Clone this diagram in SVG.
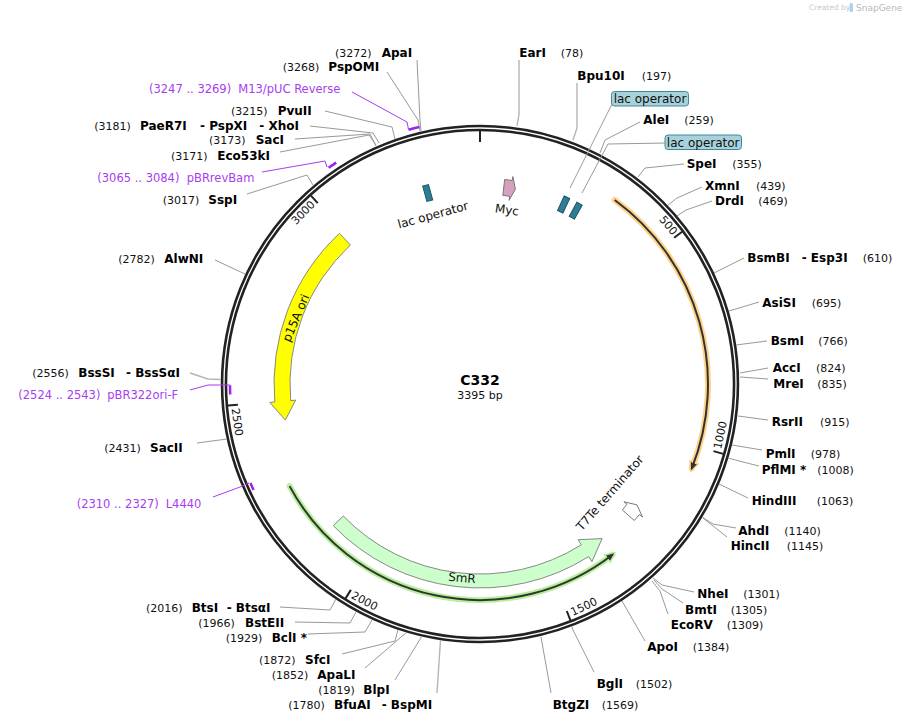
<svg xmlns="http://www.w3.org/2000/svg" width="907" height="723" viewBox="0 0 907 723">
<defs>
<style>
.en{font-family:"DejaVu Sans",Verdana,sans-serif;font-weight:bold;font-size:12px;fill:#000}
.num{font-family:"DejaVu Sans",Verdana,sans-serif;font-size:11px;fill:#111}
.pr{font-family:"DejaVu Sans",Verdana,sans-serif;font-size:11.5px;fill:#a83df0}
.fl{font-family:"DejaVu Sans",Verdana,sans-serif;font-size:12px;fill:#111}
.tk{font-family:"DejaVu Sans",Verdana,sans-serif;font-size:11px;fill:#111}
.ld{stroke:#999;fill:none;stroke-width:1}
.ld2{stroke:#b5b5b5;fill:none;stroke-width:1.4}
.pl{stroke:#a83df0;fill:none;stroke-width:1}
.pb{stroke:#a020f0;fill:none;stroke-width:2.5}
.tick{stroke:#222;stroke-width:2}
.lacf{fill:#2d7d94;stroke:#1e5565;stroke-width:1}
.box{fill:#a9d1da;stroke:#3a8a9e;stroke-width:1}
</style>
<marker id="ahG" viewBox="0 0 10 10" refX="6" refY="5" markerWidth="12" markerHeight="12" markerUnits="userSpaceOnUse" orient="auto"><path d="M0,0 L10,5 L0,10 z" fill="#b6f09a"/></marker>
<marker id="ahO" viewBox="0 0 10 10" refX="6" refY="5" markerWidth="12" markerHeight="12" markerUnits="userSpaceOnUse" orient="auto"><path d="M0,0 L10,5 L0,10 z" fill="#ffd48a"/></marker>
<marker id="ahD" viewBox="0 0 10 10" refX="7" refY="5" markerWidth="8" markerHeight="8" markerUnits="userSpaceOnUse" orient="auto"><path d="M0,1 L10,5 L0,9 z" fill="#333"/></marker>
</defs>
<rect width="907" height="723" fill="#fff"/>

<g id="watermark">
<text x="809" y="10" font-family="DejaVu Sans,sans-serif" font-size="7.5" fill="#c8c8c8">Created by</text>
<rect x="849.5" y="3" width="3.5" height="9" rx="1.5" fill="#a8d4f2"/>
<text x="856" y="10.5" font-family="DejaVu Sans,sans-serif" font-size="9" fill="#b8b8b8">SnapGene</text>
</g>

<g id="backbone">
<circle cx="480" cy="384" r="256" fill="none" stroke="#222" stroke-width="6.5"/>
<circle cx="480" cy="384" r="256" fill="none" stroke="#fff" stroke-width="1.3"/>
<line class="tick" x1="480" y1="131" x2="480" y2="142"/>
<line class="tick" x1="682.1" y1="231.8" x2="674.1" y2="237.8"/>
<line class="tick" x1="723.2" y1="453.9" x2="713.5" y2="451.1"/>
<line class="tick" x1="570.4" y1="620.3" x2="566.8" y2="611.0"/>
<line class="tick" x1="345.6" y1="598.4" x2="350.9" y2="589.9"/>
<line class="tick" x1="227.9" y1="405.6" x2="237.9" y2="404.8"/>
<line class="tick" x1="311.0" y1="195.7" x2="317.7" y2="203.1"/>
<text class="tk" text-anchor="middle" dominant-baseline="central" transform="translate(668.2,225.5) rotate(49.9)">500</text>
<text class="tk" text-anchor="middle" dominant-baseline="central" transform="translate(720.6,435.1) rotate(-78)">1000</text>
<text class="tk" text-anchor="middle" dominant-baseline="central" transform="translate(584.0,606.9) rotate(-25)">1500</text>
<text class="tk" text-anchor="middle" dominant-baseline="central" transform="translate(364.5,601.2) rotate(28)">2000</text>
<text class="tk" text-anchor="middle" dominant-baseline="central" transform="translate(237.0,422.1) rotate(81.1)">2500</text>
<text class="tk" text-anchor="middle" dominant-baseline="central" transform="translate(303.3,212.8) rotate(-45.9)">3000</text>
</g>

<g id="title">
<text x="480" y="385" text-anchor="middle" font-family="DejaVu Sans,sans-serif" font-weight="bold" font-size="14" fill="#000">C332</text>
<text x="480" y="399" text-anchor="middle" font-family="DejaVu Sans,sans-serif" font-size="11" fill="#111">3395 bp</text>
</g>

<g id="orf-green">
<path d="M289.6,486.1 A216,216 0 0,0 612.4,554.7" fill="none" stroke="#b6f09a" stroke-width="6" stroke-linecap="round" marker-end="url(#ahG)"/>
<path d="M289.6,486.1 A216,216 0 0,0 612.4,554.7" fill="none" stroke="#333" stroke-width="2" marker-end="url(#ahD)"/>
</g>
<g id="orf-orange">
<path d="M614.7,200.0 A228,228 0 0,1 691.8,468.3" fill="none" stroke="#ffd48a" stroke-width="6" stroke-linecap="round" marker-end="url(#ahO)"/>
<path d="M614.7,200.0 A228,228 0 0,1 691.8,468.3" fill="none" stroke="#333" stroke-width="2" marker-end="url(#ahD)"/>
</g>

<g id="p15A-ori">
<path d="M339.5,233.3 A206,206 0 0,0 274.8,402.0 L269.8,402.4 L285.3,420.1 L295.7,400.1 L290.7,400.6 A190,190 0 0,1 350.4,245.0 Z" fill="#ffff00" stroke="#888" stroke-width="1"/>
<text class="fl" text-anchor="middle" dominant-baseline="central" transform="translate(296,318) rotate(-67)">p15A ori</text>
</g>
<g id="SmR">
<path d="M333.3,525.7 A204,204 0 0,0 588.7,556.6 L591.9,561.7 L602.1,538.6 L578.1,539.7 L581.3,544.8 A190,190 0 0,1 343.3,516.0 Z" fill="#ccffcc" stroke="#888" stroke-width="1"/>
<text class="fl" text-anchor="middle" dominant-baseline="central" transform="translate(462,578) rotate(5)">SmR</text>
</g>
<g id="Myc">
<path d="M504.7,179.5 A206,206 0 0,1 512.2,180.5 L512.9,176.6 L515.4,189.2 L509.1,200.3 L509.7,196.3 A190,190 0 0,0 502.8,195.4 Z" fill="#d6a0bf" stroke="#777" stroke-width="1"/>
<text class="fl" text-anchor="middle" dominant-baseline="central" transform="translate(507,210) rotate(8)">Myc</text>
</g>
<g id="T7Te-terminator">
<path d="M634.3,520.5 A206,206 0 0,0 639.4,514.5 L642.5,517 L636.9,504.8 L623.9,501.8 L627,504.3 A190,190 0 0,1 622.3,509.9 Z" fill="#fff" stroke="#777" stroke-width="1"/>
<text class="fl" text-anchor="middle" dominant-baseline="central" transform="translate(610,493) rotate(-49)">T7Te terminator</text>
</g>
<g id="lac-operator-1">
<rect class="lacf" x="-3" y="-8" width="6" height="16" transform="translate(427.7,193.0) rotate(-15.3)"/>
<text class="fl" text-anchor="middle" dominant-baseline="central" transform="translate(433,215) rotate(-15.5)">lac operator</text>
</g>
<g id="lac-operator-2">
<rect class="lacf" x="-3" y="-8" width="6" height="16" transform="translate(563.6,204.5) rotate(25)"/>
<rect class="box" x="611.5" y="91.5" width="77" height="14.5" rx="3"/>
<text class="fl" x="650" y="103" text-anchor="middle">lac operator</text>
</g>
<g id="lac-operator-3">
<rect class="lacf" x="-3" y="-8" width="6" height="16" transform="translate(575.7,210.7) rotate(28.9)"/>
<rect class="box" x="665" y="135" width="76.5" height="14.5" rx="3"/>
<text class="fl" x="703.2" y="146.5" text-anchor="middle">lac operator</text>
</g>

<g id="connectors">
<polyline class="ld2" points="519,60 519,114 517,126"/>
<polyline class="ld2" points="577,83 577,128 573,140"/>
<polyline class="ld" points="612,104 570,188"/>
<polyline class="ld" points="640,122 605,140 600,153"/>
<polyline class="ld" points="666,143 608,144 582,193"/>
<polyline class="ld" points="684,164 645,168 638,177"/>
<polyline class="ld" points="702,187 677,198 668,205"/>
<polyline class="ld" points="712,201 686,210 677,216"/>
<polyline class="ld" points="744,258 714,273"/>
<polyline class="ld" points="759,302 729,311"/>
<polyline class="ld" points="767,341 736,345"/>
<polyline class="ld" points="768,368 740,373"/>
<polyline class="ld" points="768,379 740,377"/>
<polyline class="ld" points="768,420 738,416"/>
<polyline class="ld" points="762,450 732,445"/>
<polyline class="ld" points="759,466 743,462 728,458"/>
<polyline class="ld" points="748,498 719,484"/>
<polyline class="ld" points="736,528 713,524 702,517"/>
<polyline class="ld" points="727,537 703,518"/>
<polyline class="ld" points="694,592 662,585 653,578"/>
<polyline class="ld" points="683,603 662,589 654,580"/>
<polyline class="ld" points="668,614 660,591 652,581"/>
<polyline class="ld" points="645,641 622,601"/>
<polyline class="ld" points="594,672 573,630 571.6,626"/>
<polyline class="ld" points="551,693 541,637"/>
<polyline class="ld2" points="437,693 440.5,640"/>
<polyline class="ld" points="395,680 422,636"/>
<polyline class="ld" points="365,668 407,632"/>
<polyline class="ld" points="342,654 395,641 398,630"/>
<polyline class="ld" points="308,634 365,632 372,620"/>
<polyline class="ld" points="295,622 350,623 356,612"/>
<polyline class="ld" points="280,607 330,610 336,599"/>
<polyline class="ld" points="197,443 227,439"/>
<polyline class="ld2" points="190,373 208,379 221,379.5"/>
<polyline class="ld" points="215,260 245,274"/>
<polyline class="ld" points="247,194 307,175 313,185"/>
<polyline class="ld" points="280,152 369,135 376,145"/>
<polyline class="ld" points="295,139 370,134 376,146"/>
<polyline class="ld" points="310,126 373,133 379,143"/>
<polyline class="ld" points="325,111 392,127 395,139"/>
<polyline class="ld" points="387,72 418,120 420,131"/>
<polyline class="ld" points="417,60 420,120 421,131"/>
<polyline class="pl" points="352,92 407,122 408.5,129.5"/>
<polyline class="pl" points="262,172 325,161 327,167"/>
<polyline class="pl" points="190,390 208,385 230,385"/>
<polyline class="pl" points="213,497 240,487 249,483"/>
</g>

<g id="primer-M13-pUC-Reverse">
<path class="pb" d="M408.6,129.8 A264,264 0 0,1 419.3,127"/>
<text class="pr" x="149" y="93.3">(3247 .. 3269)</text><text class="pr" x="238.3" y="93.3">M13/pUC Reverse</text>
</g>
<g id="primer-pBRrevBam">
<path class="pb" d="M328.6,167.8 A264,264 0 0,1 336.2,162.6"/>
<text class="pr" x="97.3" y="181.6">(3065 .. 3084)</text><text class="pr" x="186.7" y="181.6">pBRrevBam</text>
</g>
<g id="primer-pBR322ori-F">
<path class="pb" d="M230.2,394.5 A250,250 0 0,1 230,385.3"/>
<text class="pr" x="18.3" y="399.3">(2524 .. 2543)</text><text class="pr" x="107.3" y="399.3">pBR322ori-F</text>
</g>
<g id="primer-L4440">
<path class="pb" d="M253.6,490 A250,250 0 0,1 250.4,482.9"/>
<text class="pr" x="76.7" y="507.6">(2310 .. 2327)</text><text class="pr" x="165.7" y="507.6">L4440</text>
</g>

<g id="EarI"><text class="en" x="519.3" y="56.5">EarI</text><text class="num" x="560.7" y="56.5">(78)</text></g>
<g id="Bpu10I"><text class="en" x="577.3" y="80">Bpu10I</text><text class="num" x="641.7" y="80">(197)</text></g>
<g id="AleI"><text class="en" x="643.3" y="124.3">AleI</text><text class="num" x="684.3" y="124.3">(259)</text></g>
<g id="SpeI"><text class="en" x="686.7" y="168.3">SpeI</text><text class="num" x="732.3" y="168.3">(355)</text></g>
<g id="XmnI"><text class="en" x="705" y="190">XmnI</text><text class="num" x="756" y="190">(439)</text></g>
<g id="DrdI"><text class="en" x="715" y="205">DrdI</text><text class="num" x="758.3" y="205">(469)</text></g>
<g id="BsmBI"><text class="en" x="747.3" y="262">BsmBI</text><text class="en" x="801.7" y="262">- Esp3I</text><text class="num" x="862.7" y="262">(610)</text></g>
<g id="AsiSI"><text class="en" x="762.3" y="307">AsiSI</text><text class="num" x="811.7" y="307">(695)</text></g>
<g id="BsmI"><text class="en" x="770.7" y="345">BsmI</text><text class="num" x="818.3" y="345">(766)</text></g>
<g id="AccI"><text class="en" x="772.7" y="372">AccI</text><text class="num" x="816" y="372">(824)</text></g>
<g id="MreI"><text class="en" x="773.3" y="387.6">MreI</text><text class="num" x="817.3" y="387.6">(835)</text></g>
<g id="RsrII"><text class="en" x="771.7" y="426">RsrII</text><text class="num" x="820" y="426">(915)</text></g>
<g id="PmlI"><text class="en" x="765.7" y="457.6">PmlI</text><text class="num" x="810.7" y="457.6">(978)</text></g>
<g id="PflMI"><text class="en" x="761.7" y="474.3">PflMI *</text><text class="num" x="817.3" y="474.3">(1008)</text></g>
<g id="HindIII"><text class="en" x="751.7" y="505">HindIII</text><text class="num" x="816.7" y="505">(1063)</text></g>
<g id="AhdI"><text class="en" x="738.3" y="535">AhdI</text><text class="num" x="784.3" y="535">(1140)</text></g>
<g id="HincII"><text class="en" x="730.7" y="550">HincII</text><text class="num" x="786.7" y="550">(1145)</text></g>
<g id="NheI"><text class="en" x="697.3" y="598.3">NheI</text><text class="num" x="743.3" y="598.3">(1301)</text></g>
<g id="BmtI"><text class="en" x="685" y="614.3">BmtI</text><text class="num" x="730.7" y="614.3">(1305)</text></g>
<g id="EcoRV"><text class="en" x="670.7" y="629.3">EcoRV</text><text class="num" x="726.7" y="629.3">(1309)</text></g>
<g id="ApoI"><text class="en" x="647.3" y="651">ApoI</text><text class="num" x="692.7" y="651">(1384)</text></g>
<g id="BglI"><text class="en" x="596.7" y="687.6">BglI</text><text class="num" x="635.7" y="687.6">(1502)</text></g>
<g id="BtgZI"><text class="en" x="552.7" y="709.3">BtgZI</text><text class="num" x="601.7" y="709.3">(1569)</text></g>

<g id="BtsI"><text class="num" x="146" y="611.6">(2016)</text><text class="en" x="191.7" y="611.6">BtsI</text><text class="en" x="226.7" y="611.6">- BtsαI</text></g>
<g id="BstEII"><text class="num" x="198.3" y="627">(1966)</text><text class="en" x="245" y="627">BstEII</text></g>
<g id="BclI"><text class="num" x="225.7" y="642">(1929)</text><text class="en" x="271.7" y="642">BclI *</text></g>
<g id="SfcI"><text class="num" x="259" y="664.3">(1872)</text><text class="en" x="305" y="664.3">SfcI</text></g>
<g id="ApaLI"><text class="num" x="271.7" y="679.3">(1852)</text><text class="en" x="317.3" y="679.3">ApaLI</text></g>
<g id="BlpI"><text class="num" x="318.3" y="693.6">(1819)</text><text class="en" x="363.3" y="693.6">BlpI</text></g>
<g id="BfuAI"><text class="num" x="288.3" y="709.3">(1780)</text><text class="en" x="334" y="709.3">BfuAI</text><text class="en" x="381.7" y="709.3">- BspMI</text></g>
<g id="SacII"><text class="num" x="104.3" y="452">(2431)</text><text class="en" x="150" y="452">SacII</text></g>
<g id="BssSI"><text class="num" x="32.3" y="377">(2556)</text><text class="en" x="78.3" y="377">BssSI</text><text class="en" x="126" y="377">- BssSαI</text></g>
<g id="AlwNI"><text class="num" x="118.3" y="262.6">(2782)</text><text class="en" x="164.3" y="262.6">AlwNI</text></g>
<g id="SspI"><text class="num" x="162.7" y="204.3">(3017)</text><text class="en" x="208.3" y="204.3">SspI</text></g>
<g id="Eco53kI"><text class="num" x="171" y="160.3">(3171)</text><text class="en" x="217.3" y="160.3">Eco53kI</text></g>
<g id="SacI"><text class="num" x="209" y="144.3">(3173)</text><text class="en" x="255.7" y="144.3">SacI</text></g>
<g id="PaeR7I"><text class="num" x="94.3" y="130">(3181)</text><text class="en" x="140" y="130">PaeR7I</text><text class="en" x="200" y="130">- PspXI</text><text class="en" x="259.3" y="130">- XhoI</text></g>
<g id="PvuII"><text class="num" x="231" y="115">(3215)</text><text class="en" x="277.7" y="115">PvuII</text></g>
<g id="PspOMI"><text class="num" x="282.7" y="71">(3268)</text><text class="en" x="328.3" y="71">PspOMI</text></g>
<g id="ApaI"><text class="num" x="335" y="56.6">(3272)</text><text class="en" x="381.7" y="56.6">ApaI</text></g>
</svg>
